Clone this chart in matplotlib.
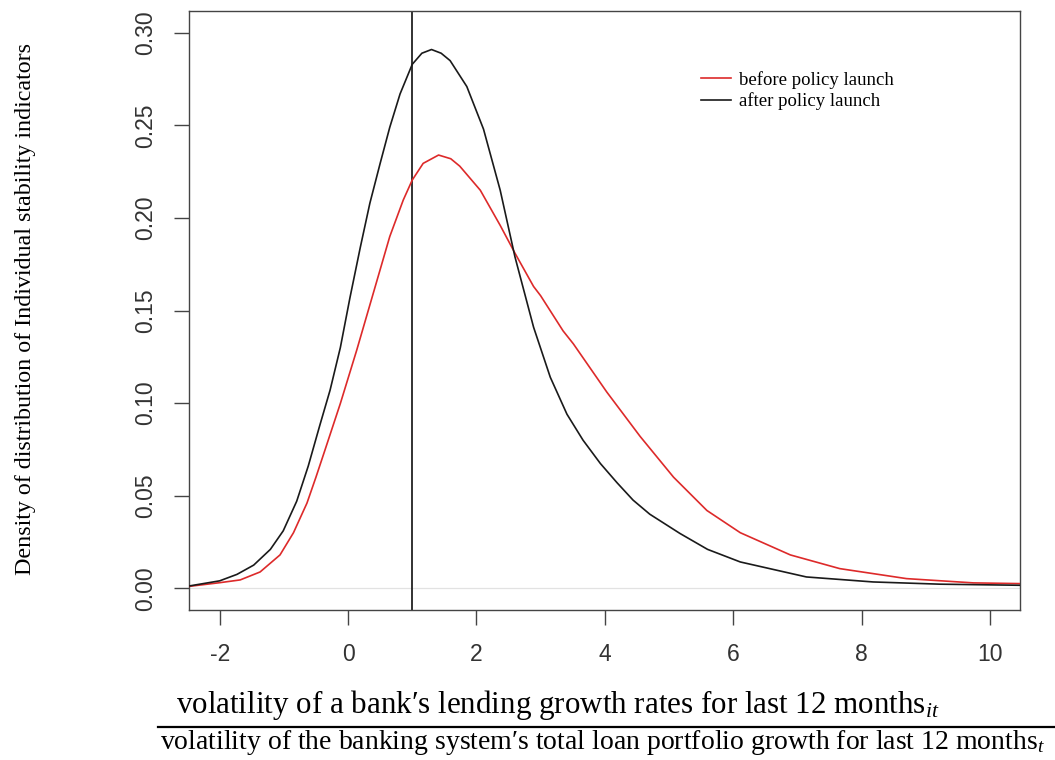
import numpy as np
import matplotlib
matplotlib.use("Agg")
import matplotlib.pyplot as plt
from matplotlib.lines import Line2D

plt.rcParams['mathtext.fontset'] = 'custom'
plt.rcParams['mathtext.rm'] = 'Liberation Serif'
plt.rcParams['mathtext.it'] = 'Liberation Serif:italic'

# density
x_after = [-2.48, -2.0, -1.73, -1.47, -1.21, -1.01, -0.80, -0.62, -0.44, -0.28,
           -0.12, 0.03, 0.19, 0.34, 0.50, 0.65, 0.81, 1.0, 1.15, 1.30, 1.45,
           1.59, 1.85, 2.11, 2.37, 2.60, 2.89, 3.15, 3.41, 3.66, 3.93, 4.19,
           4.44, 4.70, 5.17, 5.60, 6.11, 7.14, 8.18, 9.22, 10.48]
y_after = [0.0012, 0.004, 0.0075, 0.0125, 0.021, 0.031, 0.047, 0.066, 0.088, 0.107,
           0.130, 0.157, 0.184, 0.208, 0.2295, 0.249, 0.267, 0.283, 0.289, 0.291, 0.289,
           0.285, 0.271, 0.248, 0.215, 0.179, 0.141, 0.114, 0.094, 0.080, 0.0674, 0.057,
           0.0476, 0.040, 0.0296, 0.021, 0.0142, 0.0061, 0.0034, 0.0022, 0.0016]

x_before = [-2.48, -2.0, -1.68, -1.37, -1.06, -0.85, -0.64, -0.50, -0.36, -0.12,
            0.135, 0.39, 0.65, 0.86, 1.0, 1.17, 1.41, 1.6, 1.74, 2.06, 2.37, 2.60,
            2.89, 3.0, 3.35, 3.51, 4.03, 4.55, 5.07, 5.59, 6.11, 6.89, 7.66,
            8.70, 9.74, 10.48]
y_before = [0.001, 0.003, 0.0045, 0.0088, 0.018, 0.030, 0.046, 0.060, 0.0746, 0.0998,
            0.1286, 0.159, 0.190, 0.2097, 0.2205, 0.2295, 0.234, 0.232, 0.228, 0.215, 0.196, 0.181,
            0.163, 0.158, 0.139, 0.132, 0.106, 0.082, 0.060, 0.042, 0.030, 0.018, 0.0106,
            0.0052, 0.0029, 0.0025]

policy_x = 1.0
xticks = [-2, 0, 2, 4, 6, 8, 10]
yticks = [0.00, 0.05, 0.10, 0.15, 0.20, 0.25, 0.30]

fig = plt.figure(figsize=(10.55, 7.6), dpi=100)
ax = fig.add_axes([0.179, 0.197, 0.788, 0.789])

ax.axhline(0, color='#e2e2e2', lw=0.9, zorder=1)
ax.plot(x_before, y_before, color='#dd2a2a', lw=1.2, label='before policy launch', zorder=3)
ax.plot(x_after, y_after, color='#1a1a1a', lw=1.2, label='after policy launch', zorder=3)
ax.axvline(policy_x, color='#222222', lw=1.3, zorder=2)

ax.set_xlim(-2.48, 10.47)
ax.set_ylim(-0.0119, 0.312)
ax.set_xticks(xticks)
ax.set_yticks(yticks)
ax.set_xticklabels([str(t) for t in xticks], family='Liberation Sans', fontsize=16.5, color='#333333')
ax.set_yticklabels(['%.2f' % t for t in yticks], family='Liberation Sans', fontsize=16.5,
                   color='#333333', rotation=90, va='center')
ax.tick_params(axis='both', direction='out', length=10.5, width=1.0, color='#444444')
ax.tick_params(axis='x', pad=13)
ax.tick_params(axis='y', pad=12)
for s in ax.spines.values():
    s.set_color('#444444')
    s.set_linewidth(1.0)

ax.legend(loc='upper left', bbox_to_anchor=(0.605, 0.915), frameon=False,
          prop={'family': 'Liberation Serif', 'size': 13.5},
          handlelength=1.6, handletextpad=0.4, labelspacing=0.2, borderpad=0)

fig.text(0.024, 0.593, 'Density of distribution of Individual stability indicators',
         rotation=90, ha='center', va='center', family='Liberation Serif', fontsize=17.3)

# fraction as x-axis label
fig.text(558 / 1055, 1 - 713 / 760, 'volatility of a bank\u2032s lending growth rates for last 12 months$_{it}$',
         ha='center', va='baseline', family=['Liberation Serif', 'DejaVu Serif'], fontsize=22.3)
fig.add_artist(Line2D([158 / 1055, 1.0], [1 - 727 / 760, 1 - 727 / 760], color='black', lw=1.6))
fig.text(160 / 1055, 1 - 749 / 760,
         'volatility of the banking system\u2032s total loan portfolio growth for last 12 months$_{t}$',
         ha='left', va='baseline', family=['Liberation Serif', 'DejaVu Serif'], fontsize=20)

fig.savefig('out.png', dpi=100)
